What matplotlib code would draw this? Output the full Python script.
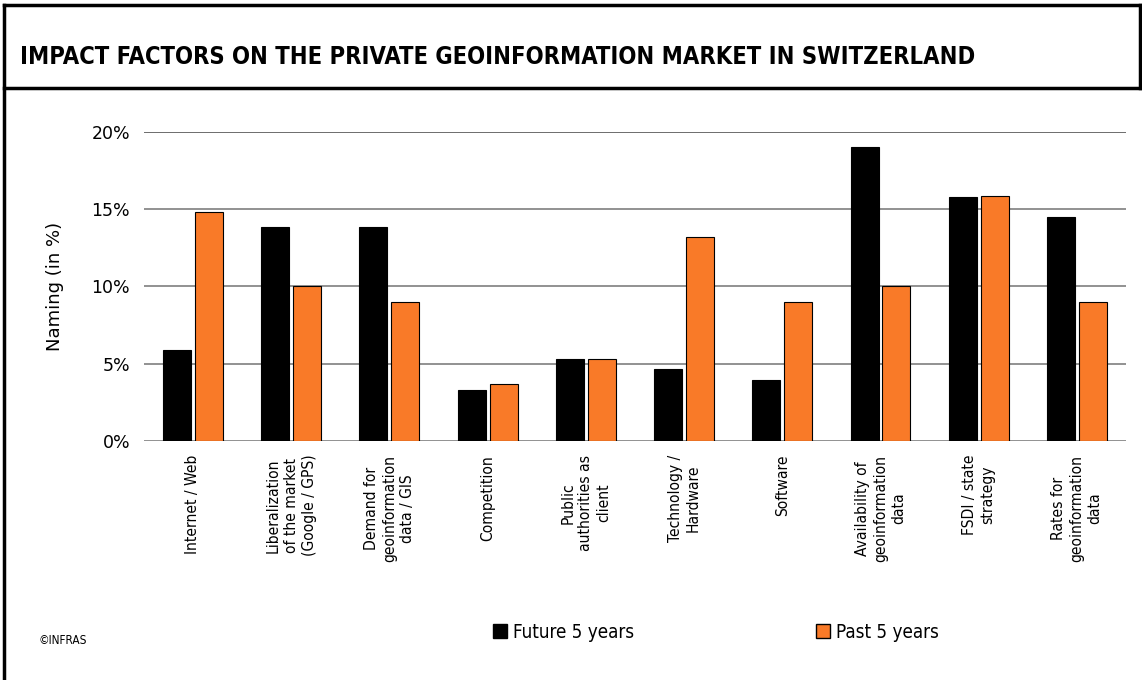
import numpy as np
import matplotlib
matplotlib.use('Agg')
import matplotlib.pyplot as plt
from matplotlib.patches import Patch
from matplotlib.lines import Line2D

plt.rcParams['font.family'] = ['DejaVu Sans']

categories = [
    "Internet / Web",
    "Liberalization\nof the market\n(Google / GPS)",
    "Demand for\ngeoinformation\ndata / GIS",
    "Competition",
    "Public\nauthorities as\nclient",
    "Technology /\nHardware",
    "Software",
    "Availability of\ngeoinformation\ndata",
    "FSDI / state\nstrategy",
    "Rates for\ngeoinformation\ndata",
]
future_5y = [5.9, 13.85, 13.85, 3.3, 5.3, 4.65, 3.95, 19.05, 15.8, 14.5]
past_5y = [14.8, 10.0, 9.0, 3.7, 5.3, 13.2, 9.0, 10.0, 15.85, 9.0]
yticks = [0, 5, 10, 15, 20]

orange = '#F97A28'

fig = plt.figure(figsize=(11.42, 6.8), dpi=100)
ax = fig.add_axes([0.126, 0.3515, 0.860, 0.4544])

x = np.arange(len(categories))
w = 0.285
gap = 0.02
ax.bar(x - w / 2 - gap, future_5y, width=w, color='black', edgecolor='black', linewidth=0.8, zorder=3)
ax.bar(x + w / 2 + gap, past_5y, width=w, color=orange, edgecolor='black', linewidth=0.8, zorder=3)

ax.set_xlim(-0.5, len(categories) - 0.5)
ax.set_ylim(0, 20)
ax.set_yticks(yticks)
ax.set_yticklabels([f"{t}%" for t in yticks], fontsize=12.5)
ax.yaxis.grid(True, color='#7f7f7f', linewidth=1.2, zorder=0)
ax.axhline(20, color='black', linewidth=1.2, zorder=1)
for s in ax.spines.values():
    s.set_visible(False)
ax.tick_params(axis='y', length=0, pad=10)
ax.tick_params(axis='x', length=0)
ax.set_xticks(x)
ax.set_xticklabels(categories, rotation=90, ha='center', va='top', fontsize=11.2,
                   linespacing=1.25, multialignment='center', fontstretch='condensed')
ax.tick_params(axis='x', pad=10)
ax.set_ylabel("Naming (in %)", fontsize=13, labelpad=20)

# frame lines around title band
fig.add_artist(Line2D([4 / 1142, 4 / 1142], [0, 1 - 5 / 680], color='black', lw=2.5, transform=fig.transFigure))
fig.add_artist(Line2D([4 / 1142, 1], [1 - 5 / 680, 1 - 5 / 680], color='black', lw=2.5, transform=fig.transFigure))
fig.add_artist(Line2D([4 / 1142, 1], [1 - 88 / 680, 1 - 88 / 680], color='black', lw=2.5, transform=fig.transFigure))
fig.add_artist(Line2D([1140 / 1142, 1140 / 1142], [1 - 88 / 680, 1 - 5 / 680], color='black', lw=2.5, transform=fig.transFigure))

fig.text(20 / 1142, 1 - 57 / 680, "IMPACT FACTORS ON THE PRIVATE GEOINFORMATION MARKET IN SWITZERLAND",
         fontsize=17, fontweight='bold', fontstretch='condensed', va='center', ha='left')

fig.text(38 / 1142, 1 - 641 / 680, "©INFRAS", fontsize=8.5, fontstretch='condensed', va='center', ha='left')

handles = [Patch(facecolor='black', edgecolor='black', label='Future 5 years'),
           Patch(facecolor=orange, edgecolor='black', label='Past 5 years')]
fig.legend(handles=handles, ncol=2, loc='center', bbox_to_anchor=(0.627, 1 - 632 / 680),
           frameon=False, prop={'size': 13.5, 'stretch': 'condensed'}, handlelength=0.75,
           handleheight=0.75, handletextpad=0.3, columnspacing=9.7)

fig.savefig('out.png', dpi=100)
